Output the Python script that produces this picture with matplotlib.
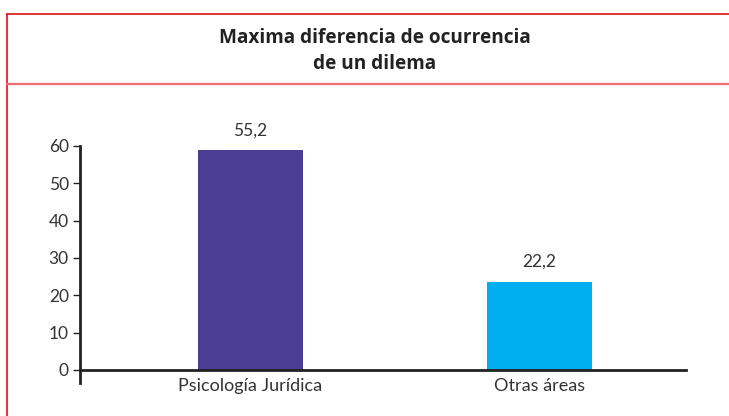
import matplotlib.pyplot as plt
from matplotlib.lines import Line2D

# Data
categories = ['Psicología Jurídica', 'Otras áreas']
bar_heights = [58.9, 23.6]        # bars as drawn in the picture
bar_labels = ['55,2', '22,2']     # values printed above the bars
y_ticks = [0, 10, 20, 30, 40, 50, 60]
bar_colors = ['#4b3c94', '#00aeef']
title = 'Maxima diferencia de ocurrencia\nde un dilema'

plt.rcParams['font.family'] = ['Lato', 'DejaVu Sans']

fig = plt.figure(figsize=(7.29, 4.16), dpi=100)
W, H = 729, 416

# Red frame: top edge, left edge and header separator
red = '#e2222c'
fig.add_artist(Line2D([7 / W, 1], [1 - 14 / H, 1 - 14 / H], color=red, lw=1.3))
fig.add_artist(Line2D([7 / W, 7 / W], [0, 1 - 14 / H], color=red, lw=1.3))
fig.add_artist(Line2D([7 / W, 1], [1 - 84 / H, 1 - 84 / H], color='#f06a78', lw=1.6))

fig.text(375 / W, 1 - 51 / H, title, ha='center', va='center',
         fontsize=13.7, fontweight='bold', color='#222222', linespacing=1.38,
         family=['Open Sans', 'DejaVu Sans'])

# Axes placed so that 0 sits at y=370 px and 60 at y=146 px
ymin = -3.5
px_per_unit = (370 - 146) / 60
bottom = (416 - 370 - (-ymin) * px_per_unit) / H
height = (370 - 146 + (-ymin) * px_per_unit) / H
ax = fig.add_axes([80 / W, bottom, (686 - 80) / W, height])

x = range(len(categories))
ax.bar(x, bar_heights, width=0.363, color=bar_colors)
for xi, h, lab in zip(x, bar_heights, bar_labels):
    ax.text(xi, h + 3.2, lab, ha='center', va='bottom', fontsize=12.5, color='#333333')

ax.set_xlim(-0.59, 1.507)
ax.set_ylim(ymin, 60)
ax.set_yticks(y_ticks)
ax.set_xticks(list(x))
ax.set_xticklabels(categories)

for side in ['top', 'right']:
    ax.spines[side].set_visible(False)
ax.spines['bottom'].set_position(('data', 0))
ax.spines['bottom'].set_linewidth(2)
ax.spines['left'].set_linewidth(2)
ax.spines['bottom'].set_color('#222222')
ax.spines['left'].set_color('#222222')

ax.tick_params(axis='y', length=5, width=1, pad=3, labelsize=12.5, labelcolor='#333333',
               color='#222222')
ax.tick_params(axis='x', length=0, pad=6, labelsize=13, labelcolor='#333333')

fig.savefig('out.png', dpi=100)
